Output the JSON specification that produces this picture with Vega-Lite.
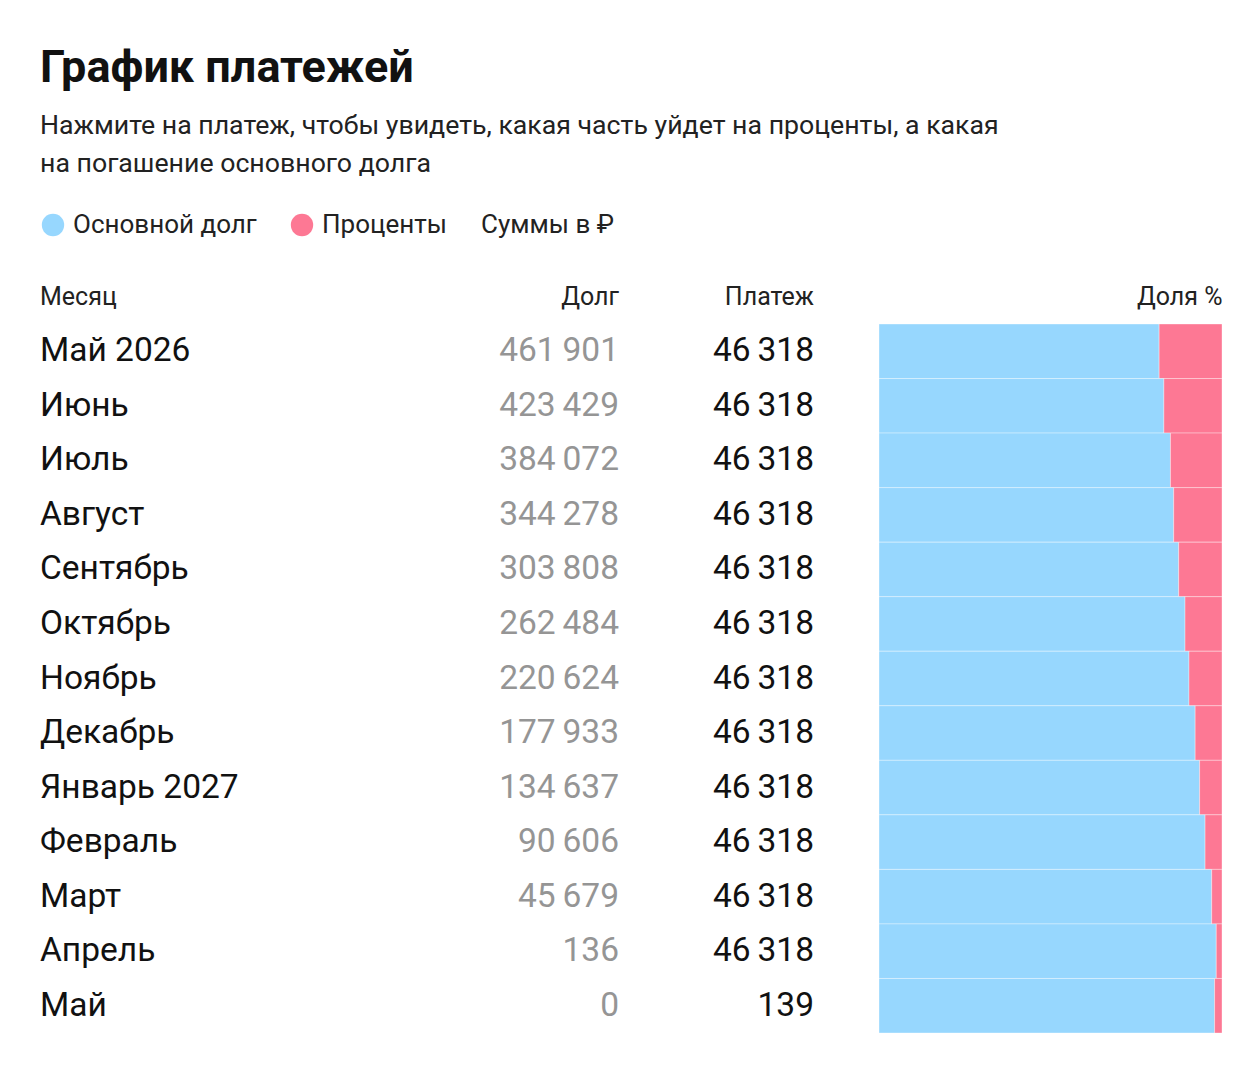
{
  "$schema": "https://vega.github.io/schema/vega-lite/v6.json",
  "padding": {"left": 40, "top": 46, "right": 5, "bottom": 5},
  "config": {
    "font": "Roboto",
    "view": {"stroke": null},
    "locale": {"number": {"decimal": ",", "thousands": "\u2009", "grouping": [3], "currency": ["", "\u00a0₽"]}},
    "title": {"fontWeight": "normal", "fontSize": 25, "color": "#222222", "offset": 14}
  },
  "title": {
    "text": "График платежей",
    "subtitle": ["Нажмите на платеж, чтобы увидеть, какая часть уйдет на проценты, а какая", "на погашение основного долга"],
    "anchor": "start",
    "fontSize": 45,
    "fontWeight": "bold",
    "color": "#111111",
    "subtitleFontSize": 26.7,
    "subtitleColor": "#222222",
    "subtitleLineHeight": 38,
    "subtitlePadding": 22,
    "offset": 34
  },
  "data": {
    "values": [
      {"i": 1, "month": "Май 2026", "debt": 461901, "payment": 46318, "Основной долг": 37828, "Проценты": 8490},
      {"i": 2, "month": "Июнь", "debt": 423429, "payment": 46318, "Основной долг": 38472, "Проценты": 7846},
      {"i": 3, "month": "Июль", "debt": 384072, "payment": 46318, "Основной долг": 39357, "Проценты": 6961},
      {"i": 4, "month": "Август", "debt": 344278, "payment": 46318, "Основной долг": 39794, "Проценты": 6524},
      {"i": 5, "month": "Сентябрь", "debt": 303808, "payment": 46318, "Основной долг": 40470, "Проценты": 5848},
      {"i": 6, "month": "Октябрь", "debt": 262484, "payment": 46318, "Основной долг": 41324, "Проценты": 4994},
      {"i": 7, "month": "Ноябрь", "debt": 220624, "payment": 46318, "Основной долг": 41860, "Проценты": 4458},
      {"i": 8, "month": "Декабрь", "debt": 177933, "payment": 46318, "Основной долг": 42691, "Проценты": 3627},
      {"i": 9, "month": "Январь 2027", "debt": 134637, "payment": 46318, "Основной долг": 43296, "Проценты": 3022},
      {"i": 10, "month": "Февраль", "debt": 90606, "payment": 46318, "Основной долг": 44031, "Проценты": 2287},
      {"i": 11, "month": "Март", "debt": 45679, "payment": 46318, "Основной долг": 44927, "Проценты": 1391},
      {"i": 12, "month": "Апрель", "debt": 136, "payment": 46318, "Основной долг": 45543, "Проценты": 775},
      {"i": 13, "month": "Май", "debt": 0, "payment": 139, "Основной долг": 136, "Проценты": 3}
    ]
  },
  "spacing": 64,
  "hconcat": [
    {
      "width": 365,
      "height": 709,
      "title": {"text": "Месяц", "anchor": "start"},
      "mark": {"type": "text", "align": "left", "baseline": "middle", "fontSize": 33.5, "color": "#111111"},
      "encoding": {
        "y": {"field": "i", "type": "ordinal", "axis": null, "scale": {"paddingInner": 0, "paddingOuter": 0}},
        "x": {"datum": 0, "type": "quantitative", "axis": null, "scale": {"domain": [0, 1]}},
        "text": {"field": "month"}
      }
    },
    {
      "width": 150,
      "height": 709,
      "title": {"text": "Долг", "anchor": "end"},
      "mark": {"type": "text", "align": "right", "baseline": "middle", "fontSize": 33.5, "color": "#959595"},
      "encoding": {
        "y": {"field": "i", "type": "ordinal", "axis": null, "scale": {"paddingInner": 0, "paddingOuter": 0}},
        "x": {"datum": 1, "type": "quantitative", "axis": null, "scale": {"domain": [0, 1]}},
        "text": {"field": "debt", "type": "quantitative", "format": ",d"}
      }
    },
    {
      "width": 131,
      "height": 709,
      "title": {"text": "Платеж", "anchor": "end"},
      "mark": {"type": "text", "align": "right", "baseline": "middle", "fontSize": 33.5, "color": "#111111"},
      "encoding": {
        "y": {"field": "i", "type": "ordinal", "axis": null, "scale": {"paddingInner": 0, "paddingOuter": 0}},
        "x": {"datum": 1, "type": "quantitative", "axis": null, "scale": {"domain": [0, 1]}},
        "text": {"field": "payment", "type": "quantitative", "format": ",d"}
      }
    },
    {
      "width": 343,
      "height": 709,
      "title": {"text": "Доля %", "anchor": "end"},
      "transform": [{"fold": ["Основной долг", "Проценты"], "as": ["part", "amount"]}],
      "mark": {"type": "bar", "stroke": "#ffffff", "strokeOpacity": 0.35, "strokeWidth": 1},
      "encoding": {
        "y": {"field": "i", "type": "ordinal", "axis": null, "scale": {"paddingInner": 0, "paddingOuter": 0}},
        "x": {"field": "amount", "type": "quantitative", "stack": "normalize", "axis": null},
        "color": {
          "field": "part",
          "type": "nominal",
          "scale": {"domain": ["Основной долг", "Проценты"], "range": ["#97d7fe", "#fd7894"]},
          "legend": {
            "orient": "none",
            "legendX": 0,
            "legendY": -112,
            "direction": "horizontal",
            "title": "Суммы в ₽",
            "titleOrient": "right",
            "titleFontSize": 26,
            "titleFontWeight": "normal",
            "titleColor": "#222222",
            "titlePadding": 34,
            "titleBaseline": "middle",
            "titleLimit": 400,
            "symbolType": "circle",
            "symbolSize": 500,
            "symbolStrokeWidth": 0,
            "labelFontSize": 26,
            "labelColor": "#222222",
            "labelOffset": 7,
            "labelLimit": 400,
            "columnPadding": 32,
            "symbolOffset": 0
          }
        },
        "order": {"field": "part", "sort": "ascending"}
      }
    }
  ]
}
